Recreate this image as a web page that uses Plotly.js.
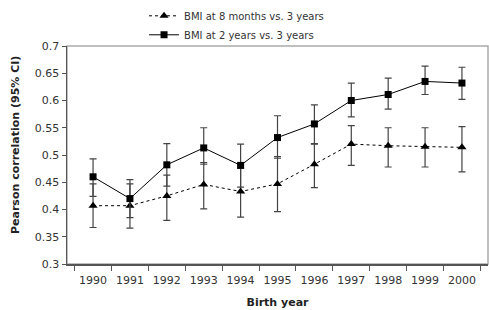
<!DOCTYPE html>
<html><head><meta charset="utf-8">
<script src="https://cdn.plot.ly/plotly-3.0.1.min.js"></script>
<style>html,body{margin:0;padding:0;background:#fff}#c{width:489px;height:310px}</style>
</head><body><div id="c"></div>
<script>
const years = ['1990','1991','1992','1993','1994','1995','1996','1997','1998','1999','2000'];
const r8m = [0.407,0.407,0.425,0.446,0.433,0.447,0.483,0.520,0.517,0.515,0.514];
const r8mUp = [0.040,0.040,0.038,0.040,0.043,0.050,0.037,0.034,0.033,0.035,0.038];
const r8mDn = [0.040,0.041,0.045,0.045,0.047,0.051,0.043,0.039,0.039,0.037,0.045];
const r2y = [0.460,0.420,0.482,0.513,0.481,0.532,0.557,0.600,0.611,0.635,0.632];
const r2yUp = [0.033,0.035,0.039,0.037,0.039,0.040,0.035,0.032,0.030,0.028,0.029];
const r2yDn = [0.036,0.035,0.039,0.030,0.040,0.038,0.036,0.030,0.027,0.024,0.030];

const font = {family:'Verdana, "DejaVu Sans", sans-serif', size:11, color:'#333'};
const eb = (up,dn)=>({type:'data',symmetric:false,array:up,arrayminus:dn,color:'#444',thickness:1.2,width:3.5});
const traces = [
 {x:years,y:r8m,name:'BMI at 8 months vs. 3 years',type:'scatter',mode:'lines+markers',
  line:{color:'#000',width:1,dash:'dot'},marker:{symbol:'triangle-up',size:8,color:'#000'},
  error_y:eb(r8mUp,r8mDn)},
 {x:years,y:r2y,name:'BMI at 2 years vs. 3 years',type:'scatter',mode:'lines+markers',
  line:{color:'#000',width:1},marker:{symbol:'square',size:7,color:'#000'},
  error_y:eb(r2yUp,r2yDn)}
];
const layout = {
 width:489,height:310,margin:{l:67,r:1,t:46,b:46},
 paper_bgcolor:'#fff',plot_bgcolor:'#fff',font:font,showlegend:true,
 legend:{x:0.183,xanchor:'left',y:1.205,yanchor:'top',orientation:'v',font:{family:font.family,size:10,color:'#333'},
   bgcolor:'rgba(0,0,0,0)',tracegroupgap:0,itemwidth:30},
 xaxis:{type:'category',tickson:'boundaries',ticks:'outside',ticklen:5,tickcolor:'#555',tickangle:0,
   ticklabelstandoff:5,
   showline:true,linecolor:'#555',linewidth:1.5,showgrid:false,zeroline:false,
   tickfont:{family:font.family,size:11,color:'#333'},
   title:{text:'<b>Birth year</b>',font:{family:font.family,size:11,color:'#222'},standoff:12}},
 yaxis:{range:[0.3,0.7],dtick:0.05,ticks:'outside',ticklen:4,tickcolor:'#555',
   showline:true,linecolor:'#555',linewidth:1.5,showgrid:false,zeroline:false,
   tickfont:{family:font.family,size:11,color:'#333'}},
 annotations:[{text:'<b>Pearson correlation (95% CI)</b>',xref:'paper',yref:'paper',
   x:-(67-15)/421,y:(264-145)/218,xanchor:'center',yanchor:'middle',textangle:-90,showarrow:false,
   font:{family:font.family,size:11,color:'#222'}}],
 shapes:[{type:'rect',xref:'paper',yref:'paper',x0:0,x1:1,y0:0,y1:1,line:{color:'#aaa',width:1.5},layer:'below'}]
};
Plotly.newPlot('c',traces,layout,{displayModeBar:false,staticPlot:true});
</script></body></html>
